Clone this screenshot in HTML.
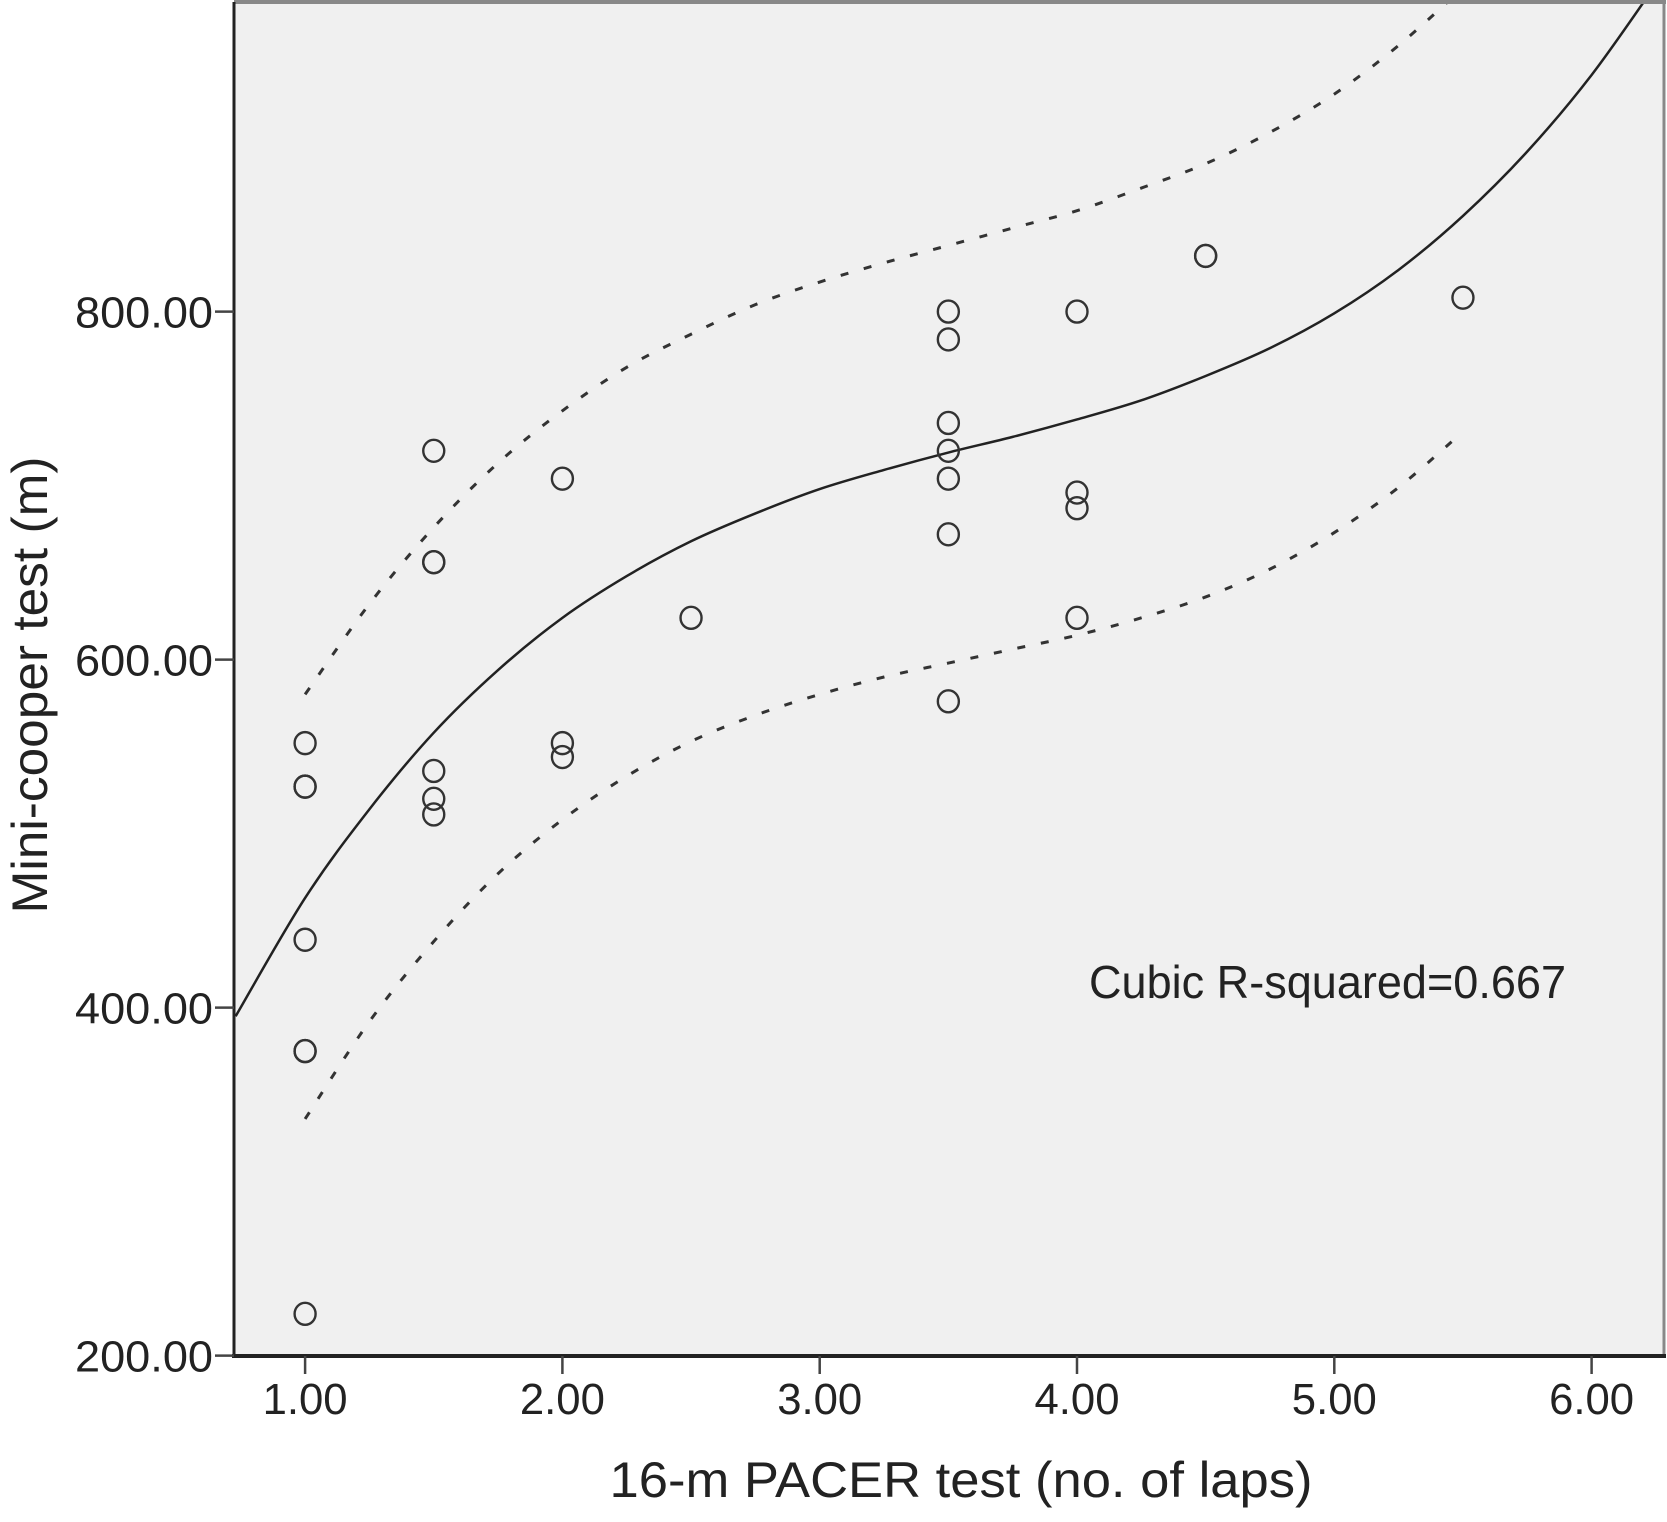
<!DOCTYPE html>
<html><head><meta charset="utf-8"><style>
html,body{margin:0;padding:0;background:#fff;}
svg{display:block;font-family:"Liberation Sans",sans-serif;}
</style></head><body>
<svg id="chart" width="1667" height="1522" viewBox="0 0 1667 1522">
<rect x="234" y="2" width="1430" height="1354" fill="#f0f0f0"/>
<line x1="234" y1="2" x2="1666" y2="2" stroke="#888" stroke-width="4"/>
<line x1="1664" y1="2" x2="1664" y2="1356" stroke="#888" stroke-width="3"/>
<g id="marks"></g>
<line x1="234" y1="2" x2="234" y2="1358" stroke="#222" stroke-width="3"/>
<line x1="232" y1="1356" x2="1666" y2="1356" stroke="#222" stroke-width="4"/>
<g id="axes"></g>
<text x="1089" y="998" font-size="46" fill="#222" textLength="477" lengthAdjust="spacingAndGlyphs">Cubic R-squared=0.667</text>
<text x="961" y="1497" font-size="50" fill="#222" text-anchor="middle" textLength="703" lengthAdjust="spacingAndGlyphs">16-m PACER test (no. of laps)</text>
<text transform="translate(47,685) rotate(-90)" font-size="50" fill="#222" text-anchor="middle" textLength="457" lengthAdjust="spacingAndGlyphs">Mini-cooper test (m)</text>
</svg>
<script>
const xTicks = [1, 2, 3, 4, 5, 6];
const xTickLabels = ["1.00", "2.00", "3.00", "4.00", "5.00", "6.00"];
const yTicks = [200, 400, 600, 800];
const yTickLabels = ["200.00", "400.00", "600.00", "800.00"];
const pointsX = [1,1,1,1,1,1,1, 1.5,1.5,1.5,1.5,1.5,1.5, 2,2,2, 2.5, 3.5,3.5,3.5,3.5,3.5,3.5,3.5, 4,4,4,4, 4.5,4.5, 5.5];
const pointsY = [552,527,527,439,375,375,224, 720,656,656,536,520,511, 704,552,544, 624, 800,784,736,720,704,672,576, 800,696,687,624, 832,832, 808];
const fitX = [0.73, 1, 1.25, 1.5, 1.75, 2, 2.25, 2.5, 2.75, 3, 3.25, 3.5, 3.75, 4, 4.25, 4.5, 4.75, 5, 5.25, 5.5, 5.75, 6, 6.25];
const fitY = [395, 463, 514, 558, 594, 624, 648, 668, 684, 698, 709, 719, 728, 738, 749, 763, 779, 799, 824, 855, 892, 936, 988];
const upperX = [1, 1.25, 1.5, 1.75, 2, 2.25, 2.5, 2.75, 3, 3.25, 3.5, 3.75, 4, 4.25, 4.5, 4.75, 5, 5.25, 5.5];
const upperY = [580, 632, 676, 713, 743, 768, 787, 804, 817, 828, 838, 848, 858, 871, 885, 903, 925, 953, 986];
const lowerX = [1, 1.25, 1.5, 1.75, 2, 2.25, 2.5, 2.75, 3, 3.25, 3.5, 3.75, 4, 4.25, 4.5, 4.75, 5, 5.25, 5.5];
const lowerY = [336, 392, 438, 477, 508, 533, 553, 568, 580, 590, 598, 606, 614, 624, 636, 652, 673, 699, 731];

const NS = "http://www.w3.org/2000/svg";
const sx = v => 305.1 + (v - 1) * 257.3;
const sy = v => 1355.6 - (v - 200) * 1.74;

function smoothPath(xs, ys) {
  const p = xs.map((x, i) => [sx(x), sy(ys[i])]);
  let d = "M" + p[0][0] + "," + p[0][1];
  for (let i = 0; i < p.length - 1; i++) {
    const p0 = p[i - 1] || p[i], p1 = p[i], p2 = p[i + 1], p3 = p[i + 2] || p2;
    const c1 = [p1[0] + (p2[0] - p0[0]) / 6, p1[1] + (p2[1] - p0[1]) / 6];
    const c2 = [p2[0] - (p3[0] - p1[0]) / 6, p2[1] - (p3[1] - p1[1]) / 6];
    d += " C" + c1 + " " + c2 + " " + p2;
  }
  return d;
}
const marks = document.getElementById("marks");
const axes = document.getElementById("axes");

const clip = document.createElementNS(NS, "clipPath");
clip.setAttribute("id", "pc");
const cr = document.createElementNS(NS, "rect");
cr.setAttribute("x", 234); cr.setAttribute("y", 4); cr.setAttribute("width", 1430); cr.setAttribute("height", 1352);
clip.appendChild(cr);
marks.appendChild(clip);
marks.setAttribute("clip-path", "url(#pc)");

const fit = document.createElementNS(NS, "path");
fit.setAttribute("d", smoothPath(fitX, fitY));
fit.setAttribute("fill", "none"); fit.setAttribute("stroke", "#222"); fit.setAttribute("stroke-width", "2.5");


marks.appendChild(fit);

const up = document.createElementNS(NS, "path");
up.setAttribute("d", smoothPath(upperX, upperY));
up.setAttribute("fill", "none"); up.setAttribute("stroke", "#333"); up.setAttribute("stroke-width", "3"); up.setAttribute("stroke-dasharray", "8 16");


marks.appendChild(up);

const lo = document.createElementNS(NS, "path");
lo.setAttribute("d", smoothPath(lowerX, lowerY));
lo.setAttribute("fill", "none"); lo.setAttribute("stroke", "#333"); lo.setAttribute("stroke-width", "3"); lo.setAttribute("stroke-dasharray", "8 16");


marks.appendChild(lo);

pointsX.forEach((x, i) => {
  const c = document.createElementNS(NS, "ellipse");
  c.setAttribute("cx", sx(x)); c.setAttribute("cy", sy(pointsY[i]));
  c.setAttribute("rx", 10.5); c.setAttribute("ry", 11);
  c.setAttribute("fill", "none"); c.setAttribute("stroke", "#333"); c.setAttribute("stroke-width", "2.4");
  
  
  marks.appendChild(c);
});

xTicks.forEach((v, i) => {
  const t = document.createElementNS(NS, "line");
  t.setAttribute("x1", sx(v)); t.setAttribute("x2", sx(v)); t.setAttribute("y1", 1356); t.setAttribute("y2", 1374);
  t.setAttribute("stroke", "#444"); t.setAttribute("stroke-width", "2.5");
  
  
  axes.appendChild(t);
  const l = document.createElementNS(NS, "text");
  l.setAttribute("x", sx(v)); l.setAttribute("y", 1414);
  l.setAttribute("text-anchor", "middle"); l.setAttribute("font-size", "44"); l.setAttribute("fill", "#222");
  l.setAttribute("textLength", "85"); l.setAttribute("lengthAdjust", "spacingAndGlyphs");
  l.textContent = xTickLabels[i];
  
  
  axes.appendChild(l);
});
yTicks.forEach((v, i) => {
  const t = document.createElementNS(NS, "line");
  t.setAttribute("x1", 215); t.setAttribute("x2", 234); t.setAttribute("y1", sy(v)); t.setAttribute("y2", sy(v));
  t.setAttribute("stroke", "#444"); t.setAttribute("stroke-width", "2.5");
  
  
  axes.appendChild(t);
  const l = document.createElementNS(NS, "text");
  l.setAttribute("x", 213); l.setAttribute("y", sy(v) + 16);
  l.setAttribute("text-anchor", "end"); l.setAttribute("font-size", "44"); l.setAttribute("fill", "#222");
  l.setAttribute("textLength", "138"); l.setAttribute("lengthAdjust", "spacingAndGlyphs");
  l.textContent = yTickLabels[i];
  
  
  axes.appendChild(l);
});
</script>
</body></html>
